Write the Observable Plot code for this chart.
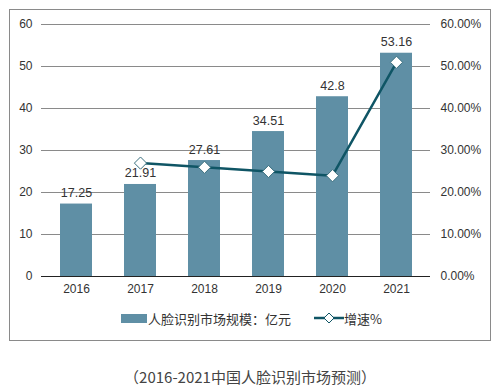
<!DOCTYPE html>
<html>
<head>
<meta charset="utf-8">
<script src="https://cdn.jsdelivr.net/npm/d3@7"></script>
<script src="https://cdn.jsdelivr.net/npm/@observablehq/plot@0.6"></script>
<style>
  html, body { margin: 0; padding: 0; background: #fff; }
  #wrap { position: relative; width: 500px; height: 392px; font-family: "Liberation Sans", Arial, "Noto Sans CJK SC", sans-serif; }
  #frame { position: absolute; left: 9px; top: 9px; width: 480px; height: 330px; border: 1px solid #8a8a8a; }
  #plot { position: absolute; left: 0; top: 0; }
  .leg { position: absolute; font-family: "Noto Sans CJK SC", sans-serif; font-size: 13px; color: #333; white-space: nowrap; }
  #caption { position: absolute; left: 0; width: 500px; top: 366px; text-align: center; font-family: "Noto Sans CJK SC", sans-serif; font-size: 15px; color: #444; }
</style>
</head>
<body>
<div id="wrap">
  <div id="frame"></div>
  <div id="plot"></div>
  <div class="leg" style="left:121px;top:314px;width:26px;height:9px;background:#5f8fa5;"></div>
  <div class="leg" style="left:148px;top:309px;">人脸识别市场规模：亿元</div>
  <svg class="leg" style="left:314px;top:312px;" width="30" height="12">
    <line x1="0" y1="6" x2="30" y2="6" stroke="#0f5565" stroke-width="2.5"/>
    <path d="M15,1 L20,6 L15,11 L10,6 Z" fill="#fff" stroke="#0f5565" stroke-width="1"/>
  </svg>
  <div class="leg" style="left:344px;top:309px;">增速%</div>
  <div id="caption">（2016-2021中国人脸识别市场预测）</div>
</div>
<script>
const years = ["2016", "2017", "2018", "2019", "2020", "2021"];
const market = [17.25, 21.91, 27.61, 34.51, 42.8, 53.16];
const marketLabels = ["17.25", "21.91", "27.61", "34.51", "42.8", "53.16"];
const growthYears = ["2017", "2018", "2019", "2020", "2021"];
const growth = [27.0, 26.0, 25.0, 24.0, 51.0];
const leftTicks = [0, 10, 20, 30, 40, 50, 60];
const rightTicks = [0, 10, 20, 30, 40, 50, 60];

const bars = years.map((y, i) => ({year: y, value: market[i], label: marketLabels[i]}));
const line = growthYears.map((y, i) => ({year: y, g: growth[i]}));

const barColor = "#5f8fa5";
const lineColor = "#0f5565";

const chart = Plot.plot({
  width: 500,
  height: 300,
  marginLeft: 41,
  marginRight: 70,
  marginTop: 24,
  marginBottom: 24,
  style: {fontFamily: "'Liberation Sans', Arial, sans-serif", fontSize: "12px", color: "#333", background: "transparent"},
  x: {domain: years, paddingInner: 0.5, paddingOuter: 0.25, label: null},
  y: {domain: [0, 60], label: null},
  marks: [
    Plot.ruleY(leftTicks.filter(d => d > 0), {stroke: "#8a8a8a", strokeWidth: 1, strokeOpacity: 1}),
    Plot.axisY({ticks: leftTicks, tickSize: 0, tickPadding: 9, anchor: "left", label: null, fill: "#333"}),
    Plot.axisY({ticks: rightTicks, tickSize: 0, tickPadding: 10, anchor: "right", label: null, fill: "#333",
      tickFormat: d => d.toFixed(2) + "%", textAnchor: "start"}),
    Plot.axisX({tickSize: 0, tickPadding: 8, label: null, fill: "#333"}),
    Plot.barY(bars, {x: "year", y: "value", fill: barColor}),
    Plot.ruleY([0], {stroke: "#222", strokeWidth: 1.2}),
    Plot.text(bars, {x: "year", y: "value", text: "label", dy: -11, fill: "#333", fontSize: 12.5}),
    Plot.line(line, {x: "year", y: "g", stroke: lineColor, strokeWidth: 2.5}),
    Plot.dot(line, {x: "year", y: "g", symbol: "diamond2", r: 5.5, fill: "#fff", stroke: "#3a6f7e", strokeWidth: 1})
  ]
});
document.getElementById("plot").appendChild(chart);
</script>
</body>
</html>
